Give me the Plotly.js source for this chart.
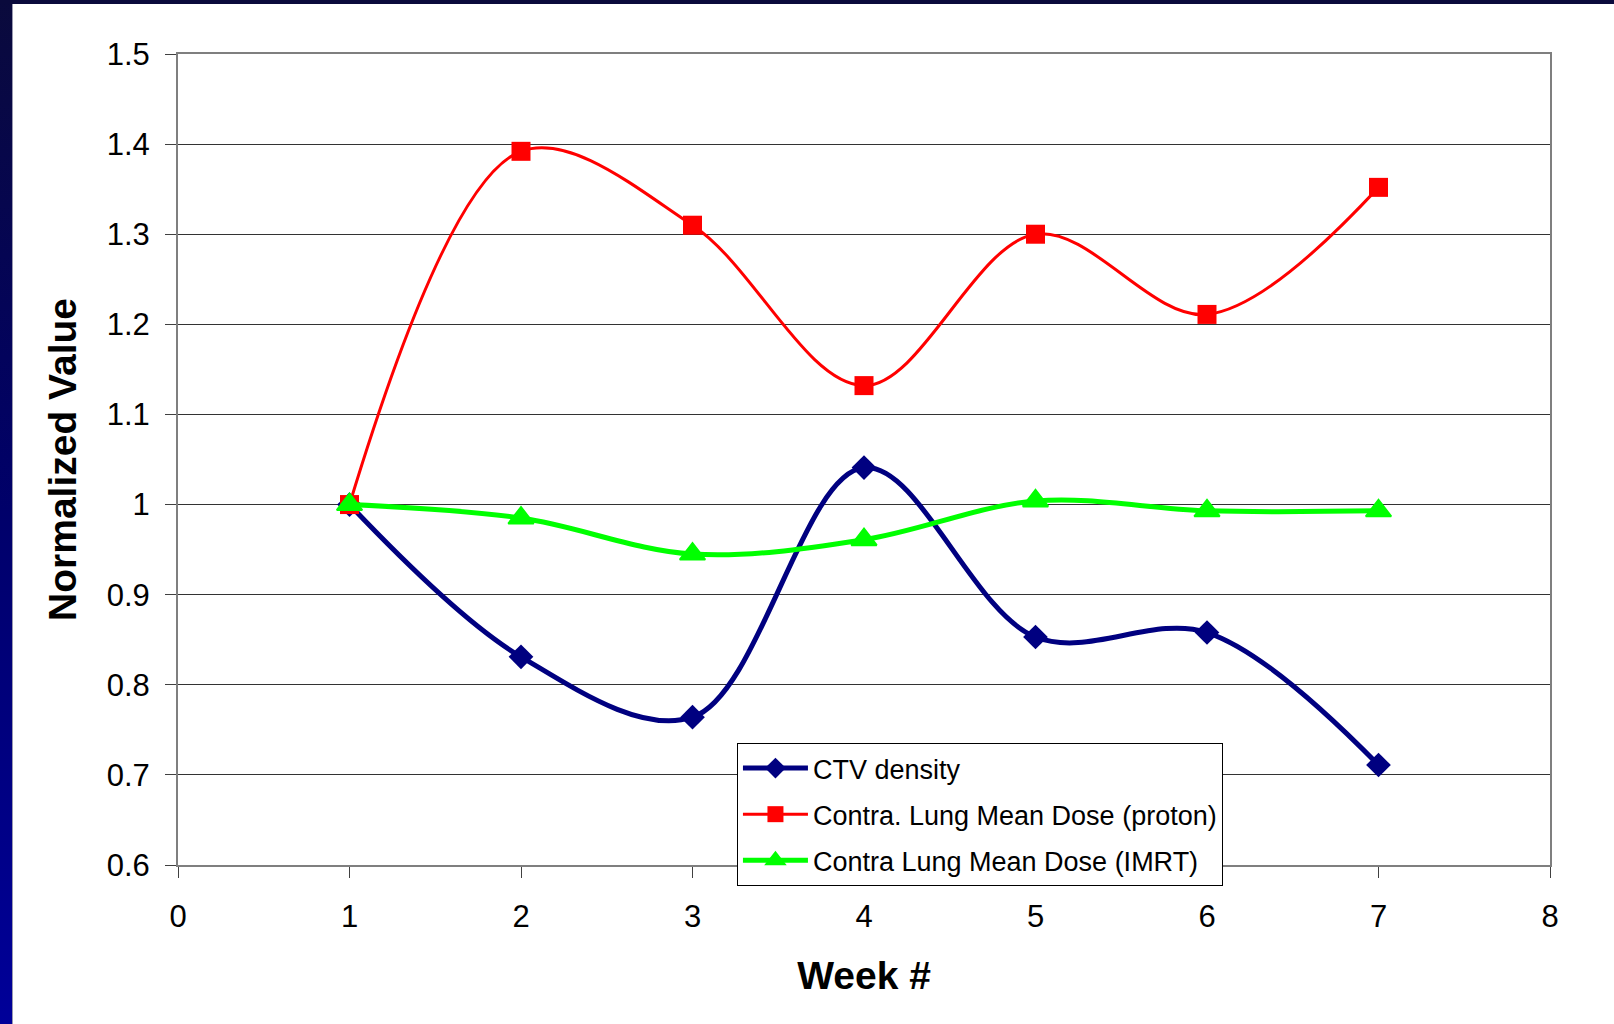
<!DOCTYPE html>
<html>
<head>
<meta charset="utf-8">
<script src="https://cdn.plot.ly/plotly-3.0.1.min.js"></script>
<style>
  html, body { margin: 0; padding: 0; background: #ffffff; }
  #wrap { position: relative; width: 1614px; height: 1024px; overflow: hidden; background: #ffffff; }
  #chart { position: absolute; left: 0; top: 0; width: 1614px; height: 1024px; }
  #bandLeft { position: absolute; left: 0; top: 0; width: 12px; height: 1024px;
    background: linear-gradient(to bottom, #0a0a3c 0%, #00006a 50%, #000099 100%);
    border-right: 1px solid #9a9ab0; z-index: 2; }
  #bandTop { position: absolute; left: 0; top: 0; width: 1614px; height: 4px;
    background: #0a0a3c; z-index: 2; }
</style>
</head>
<body>
<div id="wrap">
  <div id="chart"></div>
  <div id="bandLeft"></div>
  <div id="bandTop"></div>
</div>
<script>
// Weekly values, normalized to week 1
const weeks = [1, 2, 3, 4, 5, 6, 7];
const ctvDensity = [1.0, 0.831, 0.764, 1.041, 0.853, 0.858, 0.711];
const protonDose = [1.0, 1.392, 1.310, 1.132, 1.300, 1.211, 1.352];
const imrtDose   = [1.0, 0.985, 0.945, 0.961, 1.004, 0.993, 0.993];

const seriesNames = [
  "CTV density",
  "Contra. Lung Mean Dose (proton)",
  "Contra Lung Mean Dose (IMRT)"
];

const FONT = "Liberation Sans, Arial, sans-serif";

const traces = [
  {
    x: weeks, y: ctvDensity, name: seriesNames[0], legendgroup: "a",
    type: "scatter", mode: "lines+markers",
    line: { color: "#000080", width: 5, shape: "spline", smoothing: 1 },
    marker: { symbol: "diamond", size: 19, color: "#000080" }
  },
  {
    x: weeks, y: protonDose, name: seriesNames[1], legendgroup: "b",
    type: "scatter", mode: "lines+markers",
    line: { color: "#ff0000", width: 3, shape: "spline", smoothing: 1 },
    marker: { symbol: "square", size: 19, color: "#ff0000" }
  },
  {
    x: weeks, y: imrtDose, name: seriesNames[2], legendgroup: "c",
    type: "scatter", mode: "lines+markers",
    line: { color: "#00ff00", width: 5, shape: "spline", smoothing: 1 },
    marker: { symbol: "triangle-up", size: 22, color: "#00ff00",
              line: { color: "#00ff00", width: 2 } }
  }
];

const layout = {
  width: 1614, height: 1024,
  paper_bgcolor: "#ffffff", plot_bgcolor: "#ffffff",
  margin: { l: 178, r: 64, t: 54, b: 159, pad: 0 },
  font: { family: FONT, color: "#000000" },
  showlegend: true,
  hovermode: false,
  xaxis: {
    range: [0, 8], dtick: 1, tick0: 0,
    showgrid: false, zeroline: false,
    showline: true, linecolor: "#7f7f7f", linewidth: 2, mirror: true,
    ticks: "outside", ticklen: 11, tickwidth: 1, tickcolor: "#404040",
    ticklabelstandoff: 12,
    tickfont: { family: FONT, size: 31, color: "#000000" },
    title: { text: "<b>Week #</b>", font: { family: FONT, size: 39, color: "#000000" }, standoff: 28 }
  },
  yaxis: {
    range: [0.6, 1.5], dtick: 0.1, tick0: 0.6,
    showgrid: true, gridcolor: "#333333", gridwidth: 1,
    zeroline: false,
    showline: true, linecolor: "#7f7f7f", linewidth: 2, mirror: true,
    ticks: "outside", ticklen: 11, tickwidth: 1, tickcolor: "#404040",
    ticklabelstandoff: 9,
    tickfont: { family: FONT, size: 31, color: "#000000" },
    title: { text: "<b>Normalized Value</b>", font: { family: FONT, size: 39, color: "#000000" }, standoff: 18 }
  },
  legend: {
    x: 0.4074, y: 0.1504, xanchor: "left", yanchor: "top",
    bgcolor: "#ffffff", bordercolor: "#000000", borderwidth: 1,
    font: { family: FONT, size: 27, color: "#000000" },
    tracegroupgap: 8, itemwidth: 65,
    traceorder: "grouped"
  }
};

Plotly.newPlot("chart", traces, layout, { staticPlot: true, displayModeBar: false });
</script>
</body>
</html>
